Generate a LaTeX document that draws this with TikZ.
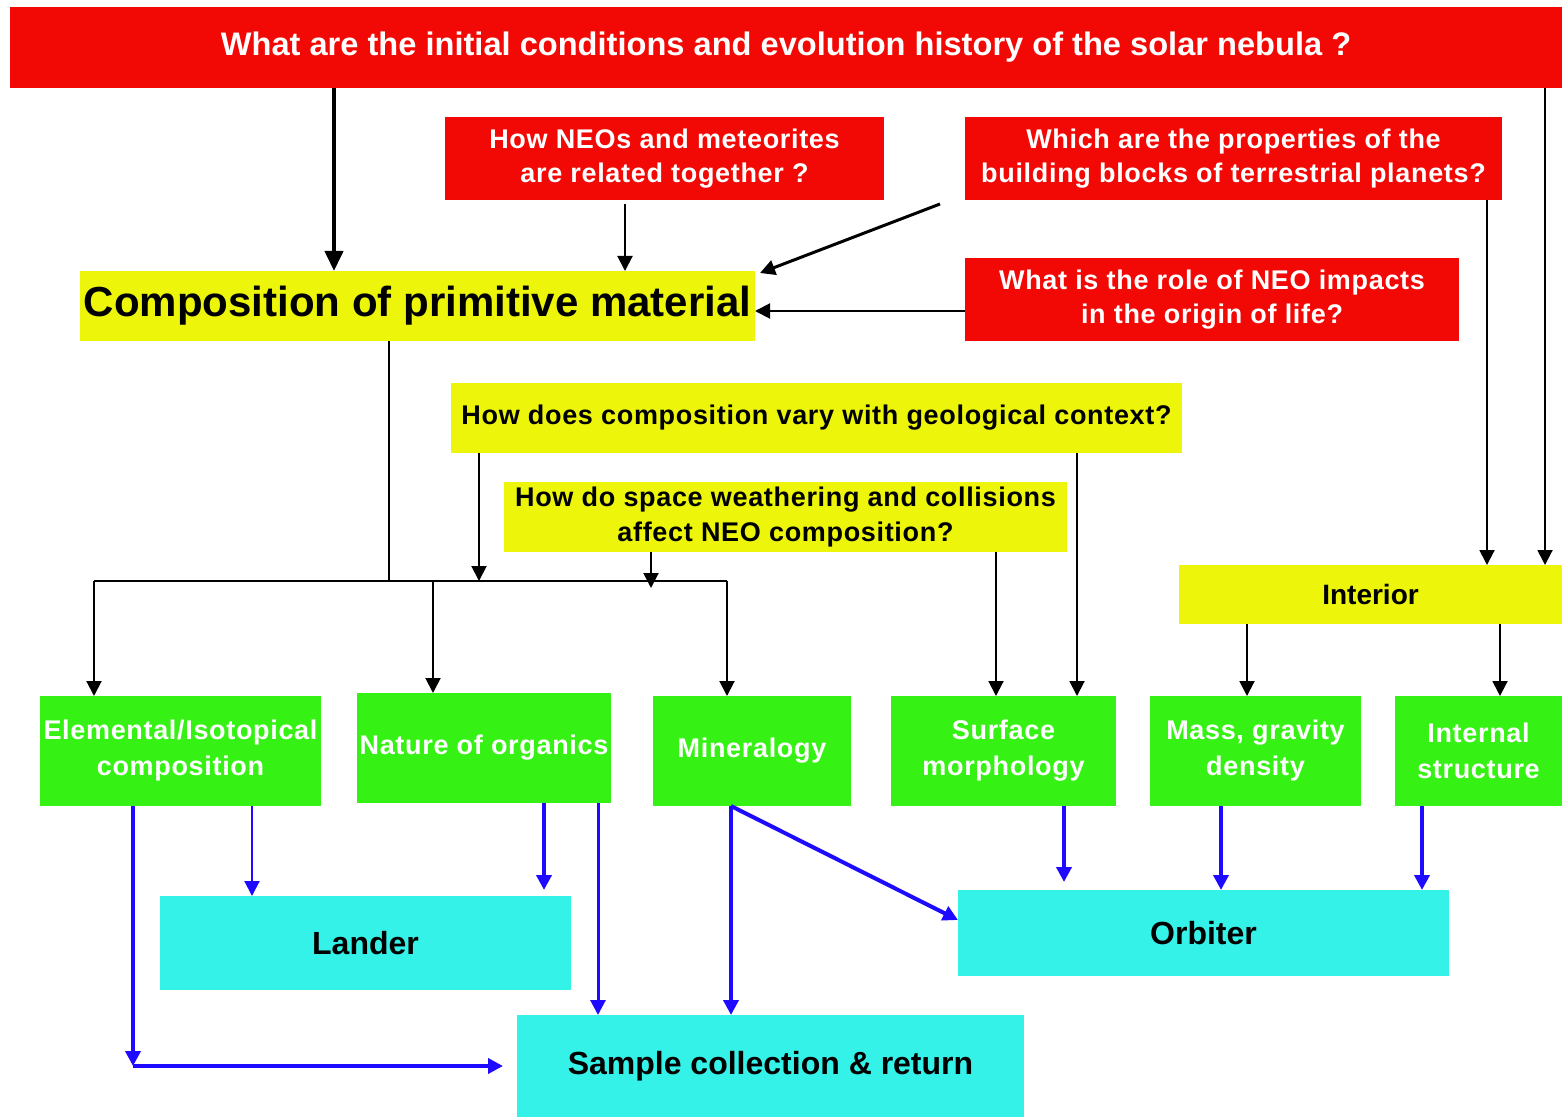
\documentclass[tikz,border=0pt]{standalone}
\usepackage{fontspec}
\setmainfont{Liberation Sans}
\usepackage{tikz}
\usetikzlibrary{arrows.meta}

\definecolor{qred}{RGB}{242,8,4}
\definecolor{qyellow}{RGB}{236,245,10}
\definecolor{qgreen}{RGB}{54,242,20}
\definecolor{qcyan}{RGB}{52,242,232}
\definecolor{qblue}{RGB}{30,10,255}

\begin{document}
\begin{tikzpicture}[x=0.5pt,y=-0.5pt,
  box/.style={rectangle,inner sep=0pt,outer sep=0pt,align=center,anchor=north west},
  redbox/.style={box,fill=qred,text=white,font=\bfseries\fontsize{13.5}{17}\selectfont\addfontfeature{LetterSpace=2.5}},
  yelbox/.style={box,fill=qyellow,text=black,font=\bfseries\fontsize{13.5}{17.5}\selectfont\addfontfeature{LetterSpace=2.5}},
  grnbox/.style={box,fill=qgreen,text=white,font=\bfseries\fontsize{13.5}{18}\selectfont\addfontfeature{LetterSpace=2.5},minimum height=55pt},
  cyanbox/.style={box,fill=qcyan,text=black,font=\bfseries\fontsize{16}{19}\selectfont},
  arr/.style={draw=black,line width=1pt,-{Triangle[length=7.5pt,width=7.5pt]}},
  bigarr/.style={arr,line width=2pt,-{Triangle[length=10pt,width=9pt]}},
  barr/.style={arr,draw=qblue,fill=qblue,line width=2pt},
  thinbarr/.style={barr,line width=1pt}]
\useasboundingbox (0,0) rectangle (1562,1117);

% questions
\node[redbox,minimum width=776pt,minimum height=40.5pt,font=\bfseries\fontsize{16.3}{20}\selectfont] (nebula) at (10,7)
  {What are the initial conditions and evolution history of the solar nebula ?};
\node[redbox,minimum width=219.5pt,minimum height=41.5pt] (neo) at (445,117)
  {How NEOs and meteorites\\are related together ?};
\node[redbox,minimum width=268.5pt,minimum height=41.5pt] (blocks) at (965,117)
  {Which are the properties of the\\building blocks of terrestrial planets?};
\node[redbox,minimum width=247pt,minimum height=41.5pt] (life) at (965,258)
  {What is the role of NEO impacts\\in the origin of life?};
\node[yelbox,minimum width=337.5pt,minimum height=35pt,font=\bfseries\fontsize{21}{25}\selectfont] (comp) at (80,271)
  {Composition of primitive material};
\node[yelbox,minimum width=365.5pt,minimum height=35pt] (geo) at (451,383)
  {How does composition vary with geological context?};
\node[yelbox,minimum width=281.5pt,minimum height=35pt] (weather) at (504,482)
  {How do space weathering and collisions\\affect NEO composition?};
\node[yelbox,minimum width=191.5pt,minimum height=29.5pt,font=\bfseries\fontsize{14}{18}\selectfont] (interior) at (1179,565) {Interior};

% measurements
\node[grnbox,minimum width=140.5pt] (elem) at (40,696) {Elemental/Isotopical\\composition};
\node[grnbox,minimum width=127pt] (org) at (357,693) {Nature of organics};
\node[grnbox,minimum width=99pt] (mineral) at (653,696) {Mineralogy};
\node[grnbox,minimum width=112.5pt] (surf) at (891,696) {Surface\\morphology};
\node[grnbox,minimum width=105.5pt] (mass) at (1150,696) {Mass, gravity\\density};
\node[grnbox,minimum width=83.5pt] (intern) at (1395,696) {Internal\\structure};

% missions
\node[cyanbox,minimum width=205.5pt,minimum height=47pt] (lander) at (160,896) {Lander};
\node[cyanbox,minimum width=245.5pt,minimum height=43pt] (orbiter) at (958,890) {Orbiter};
\node[cyanbox,minimum width=253.5pt,minimum height=51pt] (sample) at (517,1015) {Sample collection \& return};

\coordinate (bus) at (389,581);
\coordinate (busL) at (94,581);
\coordinate (busR) at (727,581);
\coordinate (corner) at (133,1066);

% black links
\draw[bigarr] (nebula.south -| 334,0) -- (comp.north -| 334,0);
\draw[arr] ([yshift=-2pt]neo.south -| 625,0) -- (comp.north -| 625,0);
\draw[arr,line width=1.5pt] ([xshift=-12.5pt,yshift=-2pt]blocks.south west) -- ([xshift=2.5pt,yshift=-1pt]comp.north east);
\draw[arr] (life.west |- 0,311) -- (comp.east |- 0,311);
\draw[arr] (blocks.south -| 1487,0) -- (interior.north -| 1487,0);
\draw[arr] (nebula.south -| 1545,0) -- (interior.north -| 1545,0);
\draw[line width=1pt] (comp.south -| bus) -- (bus);
\draw[line width=1pt] (busL) -- (busR);
\draw[arr] (busL) -- (elem.north -| busL);
\draw[arr] (bus -| 433,0) -- (org.north -| 433,0);
\draw[arr] (busR) -- (mineral.north -| busR);
\draw[arr] (geo.south -| 479,0) -- (bus -| 479,0);
\draw[arr] (weather.south -| 651,0) -- (651,588);
\draw[arr] (weather.south -| 996,0) -- (surf.north -| 996,0);
\draw[arr] (geo.south -| 1077,0) -- (surf.north -| 1077,0);
\draw[arr] (interior.south -| 1247,0) -- (mass.north -| 1247,0);
\draw[arr] (interior.south -| 1500,0) -- (intern.north -| 1500,0);

% blue links
\draw[barr] (elem.south -| corner) -- (corner);
\draw[barr,shorten >=7pt] (corner) -- (sample.west |- corner);
\draw[thinbarr] (elem.south -| 252,0) -- (lander.north -| 252,0);
\draw[barr,shorten >=3pt] (org.south -| 544,0) -- (lander.north -| 544,0);
\draw[barr,line width=1.5pt] (org.south -| 598,0) -- (sample.north -| 598,0);
\draw[barr] (mineral.south -| 731,0) -- (sample.north -| 731,0);
\draw[barr] (mineral.south -| 731,0) -- ([yshift=6.5pt]orbiter.west);
\draw[barr,shorten >=4pt] (surf.south -| 1064,0) -- (orbiter.north -| 1064,0);
\draw[barr] (mass.south -| 1221,0) -- (orbiter.north -| 1221,0);
\draw[barr] (intern.south -| 1422,0) -- (orbiter.north -| 1422,0);
\end{tikzpicture}
\end{document}
